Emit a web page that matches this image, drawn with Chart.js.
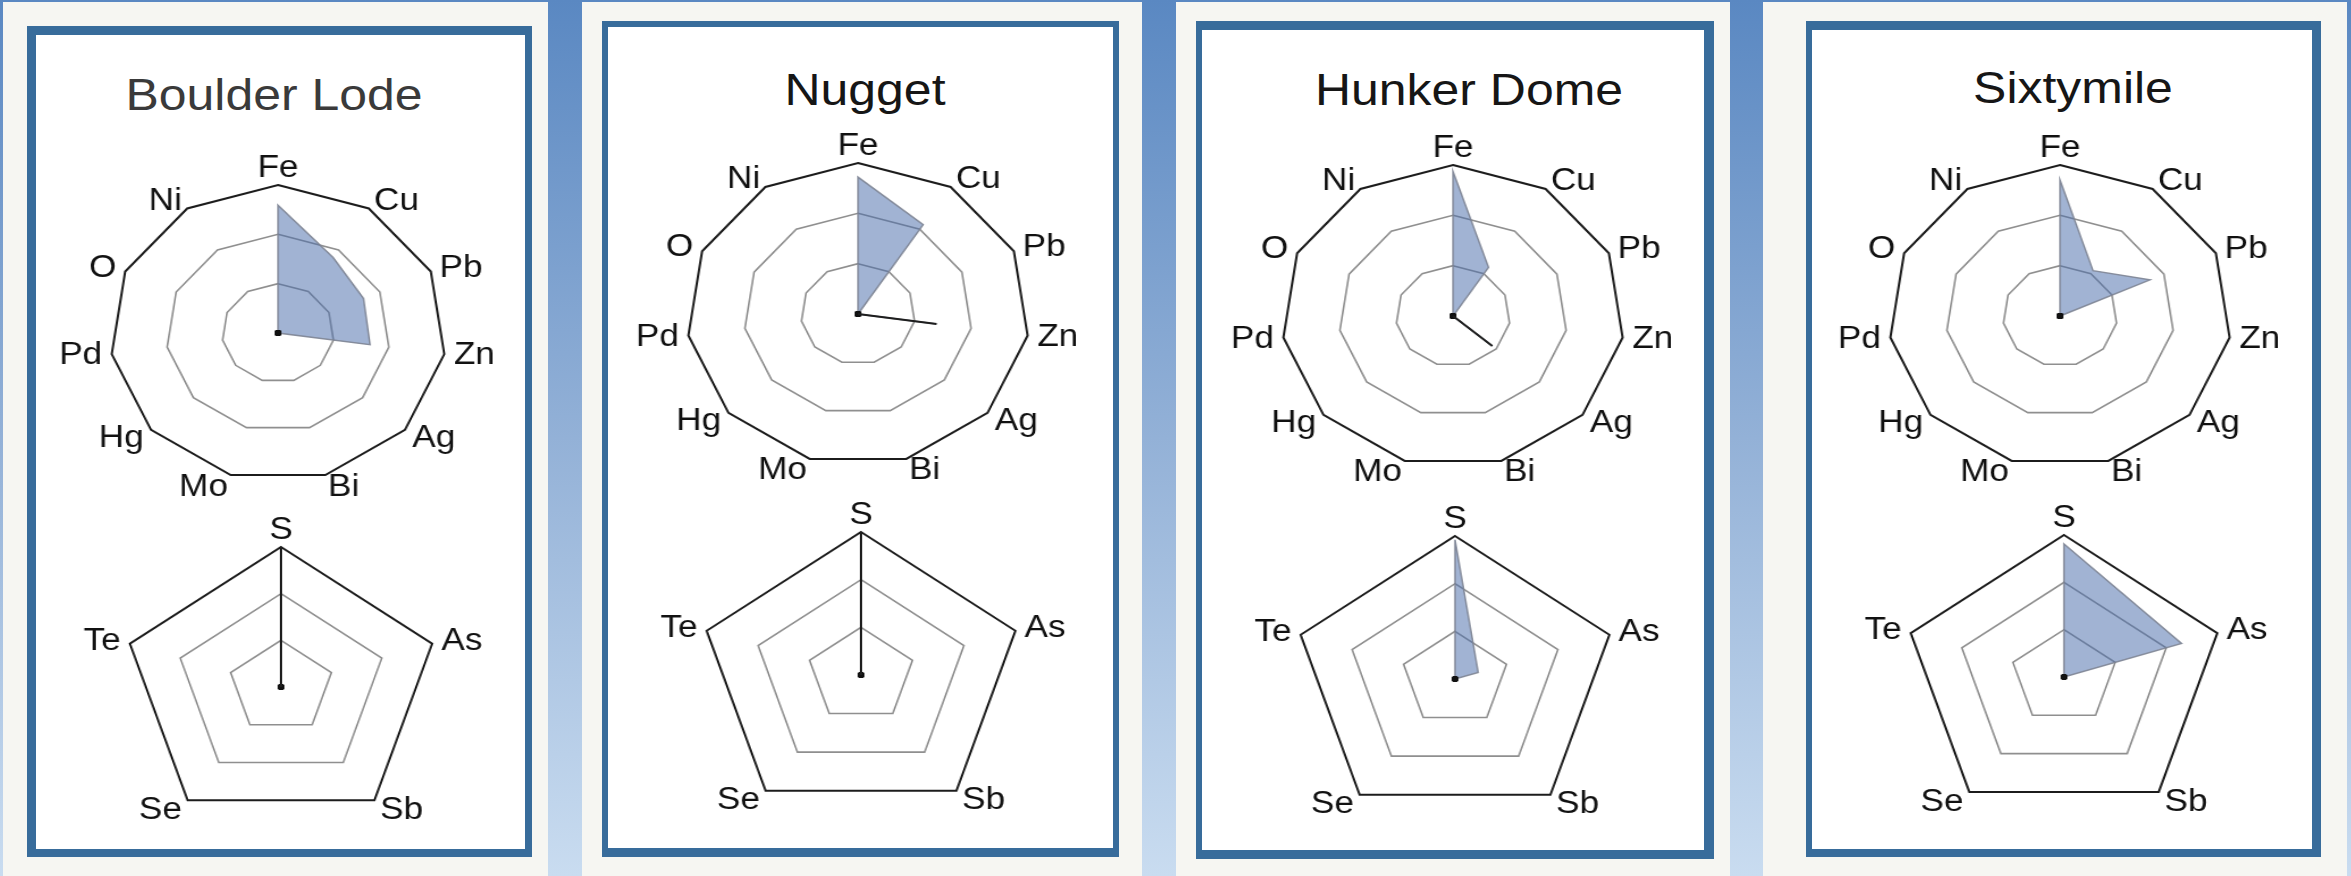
<!DOCTYPE html>
<html>
<head>
<meta charset="utf-8">
<script src="https://cdn.jsdelivr.net/npm/chart.js@4.4.1/dist/chart.umd.min.js"></script>
<style>
  html, body { margin: 0; padding: 0; }
  body {
    width: 2351px; height: 876px; position: relative; overflow: hidden;
    background: linear-gradient(to bottom, #5a88c2 0%, #93b1d7 50%, #c9dcf0 100%);
    font-family: 'Liberation Sans', Arial, sans-serif;
  }
  .col { position: absolute; top: 2px; bottom: 0; background: #f6f6f2; }
  .box { position: absolute; box-sizing: border-box; background: #ffffff; border-style: solid; border-color: #386c9b; }
  .title {
    position: absolute; width: 600px; text-align: center; white-space: nowrap;
    font-size: 44px; line-height: 44px; transform-origin: 50% 0;
  }
</style>
</head>
<body>
<script>
// Element axes of the two radar diagrams in each panel
const mainElements = ['Fe', 'Cu', 'Pb', 'Zn', 'Ag', 'Bi', 'Mo', 'Hg', 'Pd', 'O', 'Ni'];
const sulfideElements = ['S', 'As', 'Sb', 'Se', 'Te'];
const siteNames = ['Boulder Lode', 'Nugget', 'Hunker Dome', 'Sixtymile'];

// Concentric rings (scale steps); the outermost one is the frame
const ringValues = [1, 2, 3];

// Relative abundance per site
const boulderLodeMain    = [2.59, 1.82, 1.68, 1.66, 0, 0, 0, 0, 0, 0, 0];
const boulderLodeSulfide = [3.00, 0, 0, 0, 0];
const nuggetMain         = [2.72, 2.11, 0, 1.39, 0, 0, 0, 0, 0, 0, 0];
const nuggetSulfide      = [3.00, 0, 0, 0, 0];
const hunkerDomeMain     = [2.87, 1.15, 0, 0, 0.91, 0, 0, 0, 0, 0, 0];
const hunkerDomeSulfide  = [2.92, 0.45, 0, 0, 0];
const sixtymileMain      = [2.70, 1.07, 1.73, 0, 0, 0, 0, 0, 0, 0, 0];
const sixtymileSulfide   = [2.81, 2.30, 0, 0, 0];

const mainSeries = [boulderLodeMain, nuggetMain, hunkerDomeMain, sixtymileMain];
const sulfideSeries = [boulderLodeSulfide, nuggetSulfide, hunkerDomeSulfide, sixtymileSulfide];

// Page geometry
const STRETCH = 1.135;   // horizontal stretch of the whole figure
const PAD = 64;          // room around each radar for its axis labels
const panels = [
  { col: [3, 548],     box: { l: 27,   t: 26, r: 532,  b: 857, w: [9, 7, 8, 9] },
    title: { x: 273.6,  base: 110,   color: '#3a3a3a' },
    main: { cx: 278,    cy: 333,   R: 148 }, minor: { cx: 280.5,  cy: 686.5, R: 140.5 } },
  { col: [582, 1142],  box: { l: 602,  t: 21, r: 1119, b: 857, w: [6, 6.5, 9.5, 6] },
    title: { x: 865.2,  base: 105,   color: '#161616' },
    main: { cx: 858,    cy: 313.5, R: 151 }, minor: { cx: 860.5,  cy: 675.3, R: 143.5 } },
  { col: [1176, 1730], box: { l: 1196, t: 21, r: 1714, b: 859, w: [9, 10, 9, 6] },
    title: { x: 1468.6, base: 105,   color: '#161616' },
    main: { cx: 1452.5, cy: 316,   R: 151 }, minor: { cx: 1455,   cy: 679,   R: 143 } },
  { col: [1763, 2347], box: { l: 1806, t: 21, r: 2321, b: 857, w: [9, 9.7, 8, 6] },
    title: { x: 2073.2, base: 102.7, color: '#161616' },
    main: { cx: 2060,   cy: 316,   R: 151 }, minor: { cx: 2063.5, cy: 676.8, R: 142.5 } }
];

// Axis labels placed just outside the frame polygon
const axisLabels = {
  id: 'axisLabels',
  afterDraw(chart, args, opts) {
    const scale = chart.scales.r;
    const ctx = chart.ctx;
    const labels = chart.data.labels;
    const n = labels.length;
    ctx.save();
    ctx.font = opts.size + 'px ' + opts.family;
    ctx.fillStyle = opts.color;
    labels.forEach((text, i) => {
      const a = i * 2 * Math.PI / n;
      const s = Math.sin(a), c = Math.cos(a);
      const p = scale.getPointPosition(i, scale.drawingArea + opts.gap);
      if (Math.abs(s) < 1e-6) {
        ctx.textAlign = 'center';
        ctx.textBaseline = c > 0 ? 'alphabetic' : 'top';
        ctx.fillText(text, p.x, p.y);
      } else {
        ctx.textAlign = s > 0 ? 'left' : 'right';
        ctx.textBaseline = 'middle';
        ctx.fillText(text, p.x, p.y + Math.max(0, -c) * opts.drop);
      }
    });
    ctx.restore();
  }
};

function addRadar(spot, labels, values) {
  const half = Math.round(spot.R * 2) / 2;
  const size = half * 2 + 2 * PAD;
  const ctr = Math.floor(PAD + half);
  const cv = document.createElement('canvas');
  cv.width = size; cv.height = size;
  cv.style.cssText = 'position:absolute;left:' + (spot.cx - ctr) + 'px;top:' + (spot.cy - ctr) +
    'px;width:' + size + 'px;height:' + size + 'px;transform:scaleX(' + STRETCH +
    ');transform-origin:' + ctr + 'px ' + ctr + 'px;';
  document.body.appendChild(cv);

  const n = values.length;
  // a lone non-zero value between two zeros is drawn as a single dark spoke
  const spoke = i => values[i] > 0 && values[(i + n - 1) % n] === 0 && values[(i + 1) % n] === 0;
  const spokeValues = values.map((v, i) => spoke(i) ? v : 0);
  const outer = ringValues[ringValues.length - 1];

  const datasets = [{
    data: values,
    order: 1,
    fill: 'origin',
    backgroundColor: 'rgba(74,110,170,0.52)',
    borderColor: 'rgba(125,132,148,0.9)',
    borderWidth: 1.5,
    pointRadius: ctx => values[ctx.dataIndex] === 0 ? 3 : 0,
    pointHoverRadius: 0,
    pointBackgroundColor: '#111111',
    pointBorderWidth: 0
  }];
  if (spokeValues.some(v => v > 0)) {
    datasets.push({
      data: spokeValues,
      order: 0,
      fill: false,
      backgroundColor: 'rgba(0,0,0,0)',
      borderColor: '#1e1e1e',
      borderWidth: 2,
      pointRadius: 0,
      pointHoverRadius: 0
    });
  }

  new Chart(cv, {
    type: 'radar',
    data: { labels: labels, datasets: datasets },
    options: {
      responsive: false,
      animation: false,
      devicePixelRatio: 1,
      events: [],
      layout: { padding: PAD },
      elements: { line: { tension: 0 } },
      plugins: {
        legend: { display: false },
        title: { display: false },
        tooltip: { enabled: false },
        axisLabels: { size: 31, family: "'Liberation Sans', Arial, sans-serif", color: '#111111', gap: 8.5, drop: 4 }
      },
      scales: {
        r: {
          min: 0,
          max: outer,
          ticks: { display: false, stepSize: ringValues[1] - ringValues[0] },
          angleLines: { display: false },
          pointLabels: { display: false },
          grid: {
            color: ctx => (ctx.tick && ctx.tick.value === outer) ? '#1c1c1c' : '#8f8f8f',
            lineWidth: ctx => (ctx.tick && ctx.tick.value === outer) ? 2 : 1.6
          }
        }
      }
    },
    plugins: [axisLabels]
  });
}

panels.forEach((p, k) => {
  const col = document.createElement('div');
  col.className = 'col';
  col.style.left = p.col[0] + 'px';
  col.style.width = (p.col[1] - p.col[0]) + 'px';
  document.body.appendChild(col);

  const box = document.createElement('div');
  box.className = 'box';
  box.style.left = p.box.l + 'px';
  box.style.top = p.box.t + 'px';
  box.style.width = (p.box.r - p.box.l) + 'px';
  box.style.height = (p.box.b - p.box.t) + 'px';
  box.style.borderWidth = p.box.w.map(v => v + 'px').join(' ');
  document.body.appendChild(box);

  const t = document.createElement('div');
  t.className = 'title';
  t.textContent = siteNames[k];
  t.style.left = (p.title.x - 300) + 'px';
  t.style.top = (p.title.base - 37.2) + 'px';
  t.style.color = p.title.color;
  t.style.transform = 'scaleX(' + STRETCH + ')';
  document.body.appendChild(t);

  addRadar(p.main, mainElements, mainSeries[k]);
  addRadar(p.minor, sulfideElements, sulfideSeries[k]);
});
</script>
</body>
</html>
